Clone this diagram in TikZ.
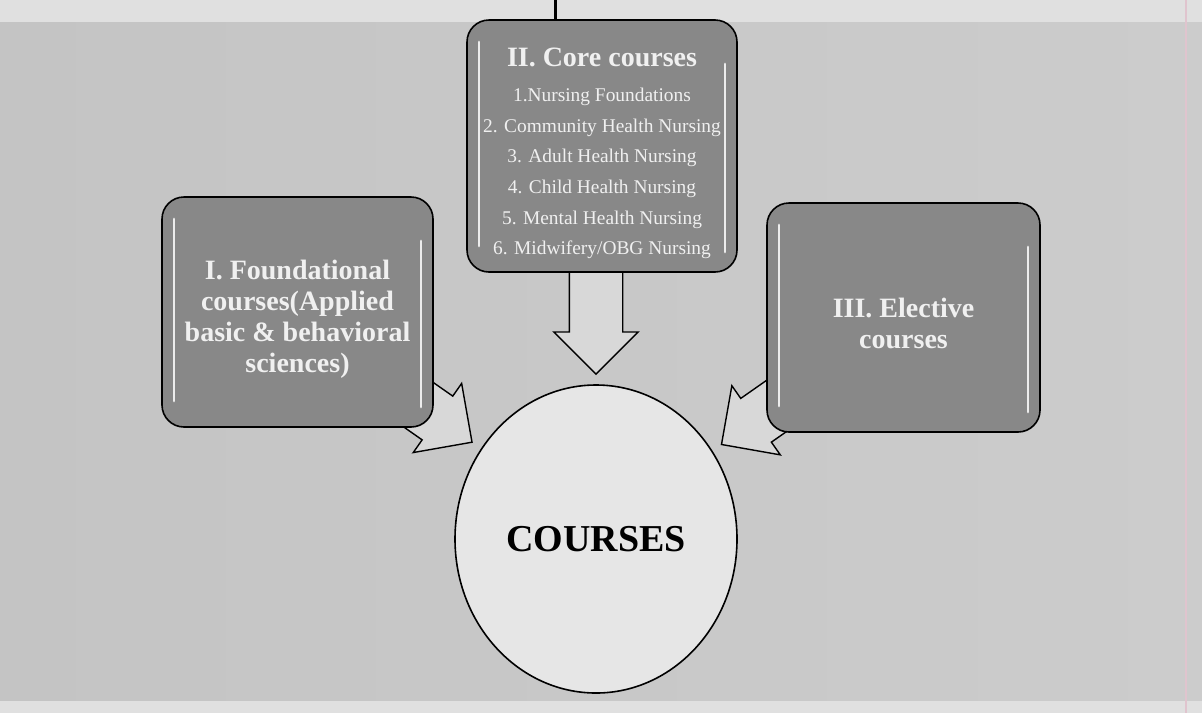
\documentclass[tikz,border=0pt]{standalone}
\usepackage{fontspec}
\setmainfont{Liberation Serif}
\usetikzlibrary{shapes.geometric,shapes.arrows,calc}

\definecolor{stripgrey}{RGB}{224,224,224}
\definecolor{panelleft}{RGB}{196,196,196}
\definecolor{panelmid}{RGB}{214,214,214}
\definecolor{panelright}{RGB}{204,204,204}
\definecolor{boxgrey}{RGB}{136,136,136}
\definecolor{arrowgrey}{RGB}{216,216,216}
\definecolor{ballgrey}{RGB}{230,230,230}
\definecolor{scanpink}{RGB}{224,196,206}

\newcommand{\sinkby}[1]{\rule{0pt}{#1}}

\tikzset{
  course/.style={draw=black, line width=0.8pt, fill=boxgrey, rounded corners=11pt,
    text=white!94!black, align=center, inner sep=0pt,
    font=\bfseries\fontsize{14}{15.5}\selectfont,
    path picture={
      \draw[white, line width=1.4pt, line cap=round, opacity=0.85]
        ([xshift=6pt,yshift=-11pt]path picture bounding box.north west) --
        ([xshift=6pt,yshift=13pt]path picture bounding box.south west)
        ([xshift=-6pt,yshift=-22pt]path picture bounding box.north east) --
        ([xshift=-6pt,yshift=10pt]path picture bounding box.south east);
    }},
  hub/.style={ellipse, draw=black, line width=0.8pt, fill=ballgrey,
    minimum width=141pt, minimum height=154pt, inner sep=0pt,
    font=\bfseries\fontsize{19}{22}\selectfont},
  bigarrow/.style={single arrow, draw=black, line width=0.7pt, fill=arrowgrey,
    minimum height=60pt, inner xsep=0pt, inner ysep=13pt,
    single arrow head extend=7.75pt, single arrow tip angle=90},
}

\begin{document}
\begin{tikzpicture}[x=0.5pt,y=-0.5pt]
\useasboundingbox (0,0) rectangle (1202,713);
% backdrop
\fill[stripgrey] (0,0) rectangle (1202,713);
\shade[left color=panelleft, middle color=panelmid, right color=panelright]
  (0,22) rectangle (1202,700);
\draw[scanpink, line width=0.8pt] (1186,0) -- (1186,713);

% centre
\node[hub] (courses) at (596,539) {COURSES};

% arrows into the centre
\node[bigarrow, rotate=-90, anchor=tip] (corearrow) at ([yshift=4.5pt]courses.north) {};
\node[bigarrow, rotate=-35, anchor=tip] (leftarrow) at ($(courses.142)!-5pt!(courses.center)$) {};
\node[bigarrow, rotate=-145, anchor=tip] (rightarrow) at ($(courses.37)!-5pt!(courses.center)$) {};

% the three groups
\node[course, minimum width=135pt, minimum height=126pt,
  font=\fontsize{9.7}{15.3}\selectfont] (core) at (602,146)
  {{\bfseries\fontsize{14}{15.3}\selectfont\sinkby{16.7pt}II. Core courses}\\[2.2pt]
   1.Nursing Foundations\\
   2. Community Health Nursing\\
   3. Adult Health Nursing\\
   4. Child Health Nursing\\
   5. Mental Health Nursing\\
   6. Midwifery/OBG Nursing};
\node[course, minimum width=135.5pt, minimum height=115pt] (found) at (297.5,312)
  {\sinkby{16.7pt}I. Foundational\\ courses(Applied\\ basic \& behavioral\\ sciences)};
\node[course, minimum width=136.5pt, minimum height=114.5pt] (elective) at (903.5,317.5)
  {\sinkby{15.7pt}III. Elective\\ courses};

\coordinate (feed) at (555,0);
\draw[line width=1.5pt] (feed) -- (feed |- core.north);
\end{tikzpicture}
\end{document}
